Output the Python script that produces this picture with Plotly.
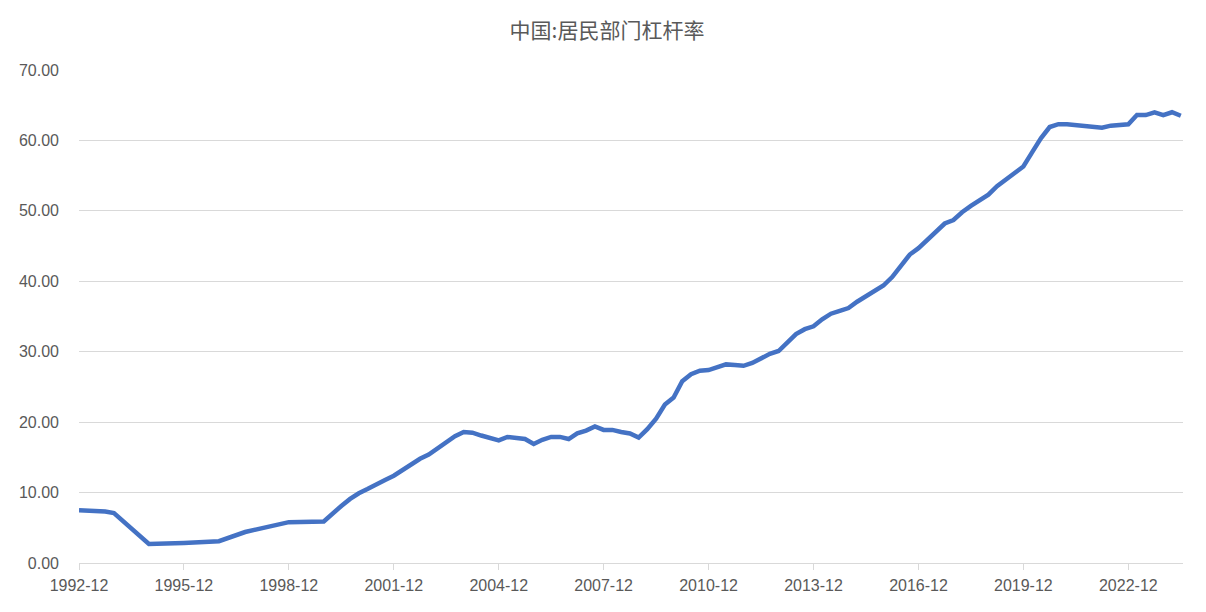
import plotly.graph_objects as go

title_text = "中国:居民部门杠杆率"

early_dates = ["1992-12", "1993-03", "1993-06", "1993-09", "1993-12", "1994-12",
               "1995-12", "1996-12", "1997-09", "1998-12", "1999-12"]
early_values = [7.5, 7.45, 7.3, 7.3, 7.1, 2.7, 2.85, 3.1, 4.4, 5.8, 5.9]

quarterly_dates = [
    "2000-03", "2000-06", "2000-09", "2000-12",
    "2001-03", "2001-06", "2001-09", "2001-12",
    "2002-03", "2002-06", "2002-09", "2002-12",
    "2003-03", "2003-06", "2003-09", "2003-12",
    "2004-03", "2004-06", "2004-09", "2004-12",
    "2005-03", "2005-06", "2005-09", "2005-12",
    "2006-03", "2006-06", "2006-09", "2006-12",
    "2007-03", "2007-06", "2007-09", "2007-12",
    "2008-03", "2008-06", "2008-09", "2008-12",
    "2009-03", "2009-06", "2009-09", "2009-12",
    "2010-03", "2010-06", "2010-09", "2010-12",
    "2011-03", "2011-06", "2011-09", "2011-12",
    "2012-03", "2012-06", "2012-09", "2012-12",
    "2013-03", "2013-06", "2013-09", "2013-12",
    "2014-03", "2014-06", "2014-09", "2014-12",
    "2015-03", "2015-06", "2015-09", "2015-12",
    "2016-03", "2016-06", "2016-09", "2016-12",
    "2017-03", "2017-06", "2017-09", "2017-12",
    "2018-03", "2018-06", "2018-09", "2018-12",
    "2019-03", "2019-06", "2019-09", "2019-12",
    "2020-03", "2020-06", "2020-09", "2020-12",
    "2021-03", "2021-06", "2021-09", "2021-12",
    "2022-03", "2022-06", "2022-09", "2022-12",
    "2023-03", "2023-06", "2023-09", "2023-12",
    "2024-03", "2024-06",
]
quarterly_values = [
    7.1, 8.1, 9.1, 9.9,
    10.5, 11.2, 11.8, 12.4,
    13.2, 14.0, 14.8, 15.4,
    16.3, 17.1, 18.0, 18.6,
    18.5, 18.1, 17.8, 17.4,
    17.9, 17.8, 17.6, 16.9,
    17.5, 17.9, 17.9, 17.6,
    18.4, 18.8, 19.4, 18.9,
    18.9, 18.6, 18.4, 17.8,
    19.0, 20.5, 22.5, 23.5,
    25.8, 26.8, 27.3, 27.4,
    27.8, 28.2, 28.1, 28.0,
    28.4, 29.0, 29.7, 30.1,
    31.2, 32.5, 33.2, 33.6,
    34.6, 35.4, 35.8, 36.2,
    37.1, 37.9, 38.7, 39.4,
    40.6, 42.3, 43.8, 44.7,
    45.9, 47.1, 48.2, 48.7,
    49.8, 50.7, 51.6, 52.3,
    53.5, 54.5, 55.4, 56.3,
    58.3, 60.3, 61.9, 62.3,
    62.3, 62.2, 62.1, 62.0,
    61.8, 62.1, 62.2, 62.3,
    63.6, 63.6, 64.0, 63.6,
    64.0, 63.5,
]

dates = [d + "-01" for d in early_dates + quarterly_dates]
values = early_values + quarterly_values

fig = go.Figure(go.Scatter(
    x=dates, y=values, mode="lines",
    line=dict(color="#4472C4", width=4.5),
    hoverinfo="x+y",
))

grey = "#595959"
fig.update_layout(
    width=1198, height=604,
    margin=dict(l=71, r=23, t=62, b=49),
    paper_bgcolor="white", plot_bgcolor="white",
    showlegend=False,
    font=dict(family="Liberation Sans, Noto Sans CJK SC", size=16, color=grey),
    title=dict(text=title_text, x=0.5, xanchor="center", y=1 - 23 / 604, yanchor="middle",
               font=dict(family="Noto Sans CJK SC", size=21, color=grey)),
)
fig.update_xaxes(
    type="date",
    range=["1992-12-01", "2024-06-24"],
    tick0="1992-12-01", dtick="M36", tickformat="%Y-%m",
    showgrid=False, showline=True, linecolor="#d9d9d9", linewidth=1,
    ticks="outside", ticklen=6, tickcolor="#d9d9d9", tickwidth=1,
    ticklabelstandoff=2,
    tickfont=dict(size=16, color=grey),
    zeroline=False,
)
fig.update_yaxes(
    range=[0, 70], dtick=10, tickformat=".2f",
    showgrid=True, gridcolor="#d9d9d9", gridwidth=1,
    showline=False, zeroline=False, ticks="",
    ticklabelstandoff=19,
    tickfont=dict(size=16, color=grey),
)

fig.write_html("out.html")
